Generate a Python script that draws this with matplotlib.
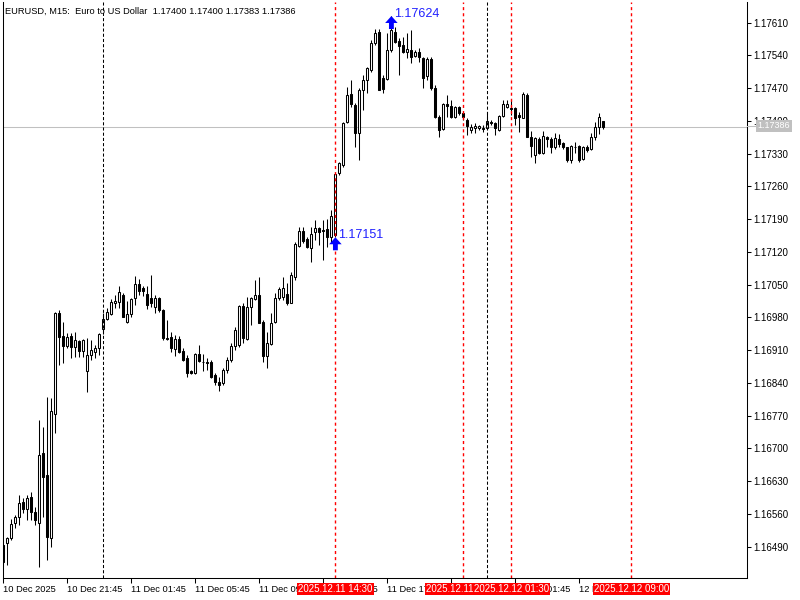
import matplotlib
matplotlib.use('Agg')
import matplotlib.pyplot as plt
import matplotlib.transforms as mtransforms
from matplotlib.lines import Line2D
import numpy as np

# ---------------- data (EURUSD M15, bars from 10 Dec 2025 17:45) ----------------
opens = [1.16493, 1.16497, 1.16508, 1.16540, 1.16553, 1.16585, 1.16570, 1.16596, 1.16564, 1.16540,
         1.16690, 1.16643, 1.16508, 1.16773, 1.16989, 1.16940, 1.16918, 1.16940, 1.16916, 1.16929,
         1.16908, 1.16865, 1.16899, 1.16906, 1.16914, 1.16955, 1.16976, 1.16987, 1.17010, 1.17013,
         1.17028, 1.16970, 1.16987, 1.17021, 1.17051, 1.17042, 1.17030, 1.17021, 1.17002, 1.17021,
         1.16995, 1.16936, 1.16938, 1.16912, 1.16933, 1.16908, 1.16893, 1.16865, 1.16861, 1.16901,
         1.16884, 1.16884, 1.16884, 1.16857, 1.16842, 1.16839, 1.16867, 1.16889, 1.16918, 1.16921,
         1.17004, 1.16933, 1.17002, 1.17019, 1.17028, 1.16970, 1.16897, 1.16923, 1.16970, 1.17021,
         1.17023, 1.17030, 1.17010, 1.17066, 1.17132, 1.17164, 1.17147, 1.17128, 1.17162, 1.17171,
         1.17166, 1.17169, 1.17151, 1.17156, 1.17288, 1.17305, 1.17397, 1.17457, 1.17434, 1.17374,
         1.17466, 1.17487, 1.17508, 1.17566, 1.17590, 1.17491, 1.17489, 1.17551, 1.17590, 1.17570,
         1.17562, 1.17547, 1.17551, 1.17538, 1.17547, 1.17534, 1.17496, 1.17532, 1.17470, 1.17408,
         1.17382, 1.17436, 1.17431, 1.17408, 1.17429, 1.17416, 1.17402, 1.17380, 1.17385, 1.17385,
         1.17385, 1.17385, 1.17397, 1.17395, 1.17380, 1.17410, 1.17429, 1.17427, 1.17427, 1.17412,
         1.17406, 1.17455, 1.17365, 1.17327, 1.17361, 1.17331, 1.17365, 1.17361, 1.17344, 1.17361,
         1.17352, 1.17344, 1.17316, 1.17344, 1.17346, 1.17318, 1.17344, 1.17340, 1.17365, 1.17387,
         1.17400]
highs = [1.16504, 1.16510, 1.16549, 1.16557, 1.16600, 1.16594, 1.16600, 1.16606, 1.16574, 1.16760,
         1.16745, 1.16809, 1.16807, 1.16991, 1.16995, 1.16970, 1.16946, 1.16946, 1.16948, 1.16931,
         1.16933, 1.16936, 1.16931, 1.16921, 1.16946, 1.16989, 1.17000, 1.17019, 1.17028, 1.17047,
         1.17032, 1.17015, 1.17021, 1.17068, 1.17062, 1.17047, 1.17047, 1.17070, 1.17028, 1.17023,
         1.16998, 1.16974, 1.16948, 1.16942, 1.16940, 1.16914, 1.16899, 1.16867, 1.16903, 1.16921,
         1.16901, 1.16893, 1.16889, 1.16861, 1.16852, 1.16871, 1.16895, 1.16925, 1.16959, 1.17006,
         1.17010, 1.17023, 1.17023, 1.17060, 1.17066, 1.16974, 1.16948, 1.16989, 1.17032, 1.17045,
         1.17066, 1.17053, 1.17077, 1.17141, 1.17173, 1.17173, 1.17151, 1.17173, 1.17188, 1.17173,
         1.17188, 1.17190, 1.17209, 1.17290, 1.17312, 1.17397, 1.17472, 1.17487, 1.17438, 1.17470,
         1.17498, 1.17515, 1.17573, 1.17596, 1.17596, 1.17498, 1.17588, 1.17624, 1.17600, 1.17577,
         1.17579, 1.17588, 1.17594, 1.17551, 1.17555, 1.17536, 1.17536, 1.17536, 1.17476, 1.17412,
         1.17438, 1.17455, 1.17444, 1.17431, 1.17431, 1.17419, 1.17406, 1.17393, 1.17395, 1.17391,
         1.17391, 1.17419, 1.17402, 1.17397, 1.17412, 1.17444, 1.17444, 1.17444, 1.17429, 1.17419,
         1.17461, 1.17459, 1.17378, 1.17365, 1.17365, 1.17378, 1.17367, 1.17365, 1.17374, 1.17372,
         1.17355, 1.17344, 1.17348, 1.17355, 1.17348, 1.17346, 1.17348, 1.17374, 1.17397, 1.17417,
         1.17400]
lows = [1.16448, 1.16450, 1.16504, 1.16530, 1.16536, 1.16562, 1.16547, 1.16547, 1.16536, 1.16446,
        1.16553, 1.16461, 1.16489, 1.16733, 1.16878, 1.16882, 1.16914, 1.16893, 1.16895, 1.16895,
        1.16895, 1.16820, 1.16889, 1.16893, 1.16899, 1.16944, 1.16974, 1.16985, 1.17000, 1.17000,
        1.16980, 1.16968, 1.16980, 1.17006, 1.17028, 1.17025, 1.16998, 1.17002, 1.16989, 1.16991,
        1.16931, 1.16931, 1.16906, 1.16897, 1.16904, 1.16886, 1.16852, 1.16859, 1.16859, 1.16884,
        1.16865, 1.16867, 1.16850, 1.16835, 1.16822, 1.16835, 1.16861, 1.16884, 1.16910, 1.16916,
        1.16925, 1.16931, 1.16963, 1.17017, 1.16968, 1.16884, 1.16871, 1.16921, 1.16968, 1.17017,
        1.17017, 1.17006, 1.17010, 1.17060, 1.17130, 1.17139, 1.17128, 1.17098, 1.17145, 1.17134,
        1.17102, 1.17130, 1.17139, 1.17151, 1.17284, 1.17301, 1.17395, 1.17429, 1.17344, 1.17316,
        1.17423, 1.17459, 1.17504, 1.17562, 1.17466, 1.17459, 1.17487, 1.17547, 1.17566, 1.17498,
        1.17545, 1.17534, 1.17523, 1.17536, 1.17525, 1.17470, 1.17487, 1.17466, 1.17406, 1.17365,
        1.17380, 1.17408, 1.17406, 1.17406, 1.17412, 1.17402, 1.17370, 1.17374, 1.17374, 1.17380,
        1.17376, 1.17382, 1.17391, 1.17370, 1.17378, 1.17408, 1.17427, 1.17412, 1.17391, 1.17376,
        1.17406, 1.17365, 1.17322, 1.17310, 1.17329, 1.17329, 1.17344, 1.17331, 1.17340, 1.17344,
        1.17340, 1.17312, 1.17310, 1.17331, 1.17312, 1.17316, 1.17333, 1.17337, 1.17359, 1.17372,
        1.17383]
closes = [1.16457, 1.16508, 1.16538, 1.16553, 1.16583, 1.16570, 1.16594, 1.16564, 1.16547, 1.16686,
          1.16639, 1.16510, 1.16780, 1.16989, 1.16938, 1.16918, 1.16938, 1.16916, 1.16931, 1.16908,
          1.16931, 1.16899, 1.16910, 1.16914, 1.16944, 1.16976, 1.16991, 1.17013, 1.17015, 1.17034,
          1.16980, 1.16987, 1.17019, 1.17051, 1.17036, 1.17036, 1.17006, 1.17010, 1.17021, 1.16995,
          1.16936, 1.16933, 1.16914, 1.16933, 1.16906, 1.16889, 1.16861, 1.16861, 1.16901, 1.16886,
          1.16885, 1.16882, 1.16852, 1.16842, 1.16835, 1.16867, 1.16889, 1.16918, 1.16953, 1.17004,
          1.16936, 1.17002, 1.17021, 1.17028, 1.16968, 1.16897, 1.16925, 1.16968, 1.17021, 1.17040,
          1.17042, 1.17010, 1.17070, 1.17136, 1.17164, 1.17143, 1.17130, 1.17158, 1.17171, 1.17162,
          1.17164, 1.17151, 1.17196, 1.17286, 1.17310, 1.17395, 1.17455, 1.17436, 1.17374, 1.17466,
          1.17487, 1.17513, 1.17566, 1.17588, 1.17466, 1.17468, 1.17551, 1.17594, 1.17568, 1.17560,
          1.17547, 1.17553, 1.17536, 1.17547, 1.17536, 1.17491, 1.17532, 1.17470, 1.17408, 1.17380,
          1.17436, 1.17431, 1.17408, 1.17429, 1.17416, 1.17408, 1.17389, 1.17387, 1.17389, 1.17389,
          1.17382, 1.17399, 1.17395, 1.17385, 1.17410, 1.17436, 1.17436, 1.17425, 1.17406, 1.17408,
          1.17457, 1.17365, 1.17346, 1.17363, 1.17331, 1.17367, 1.17361, 1.17344, 1.17363, 1.17350,
          1.17344, 1.17316, 1.17346, 1.17343, 1.17316, 1.17344, 1.17337, 1.17365, 1.17387, 1.17408,
          1.17386]

xtick_pos = [0, 16, 32, 48, 64, 80, 96, 112, 128, 144]
xtick_labels = ["10 Dec 2025", "10 Dec 21:45", "11 Dec 01:45", "11 Dec 05:45", "11 Dec 09:45",
                "11 Dec 13:45", "11 Dec 17:45", "11 Dec 21:45", "12 Dec 01:45", "12 Dec 05:45"]
price_ticks = [1.17610, 1.17540, 1.17470, 1.17400, 1.17330, 1.17260, 1.17190, 1.17120, 1.17050,
               1.16980, 1.16910, 1.16840, 1.16770, 1.16700, 1.16630, 1.16560, 1.16490]
day_sep_bars = [25, 121]
event_bars = [83, 115, 127, 157]
event_labels = ["2025.12.11 14:30", "2025.12.11 22:30", "2025.12.12 01:30", "2025.12.12 09:00"]
arrow_bars = [83, 97]
arrow_prices = [1.17151, 1.17624]
bid_price = 1.17386
title = "EURUSD, M15:  Euro to US Dollar  1.17400 1.17400 1.17383 1.17386"

# ---------------- figure ----------------
plt.rcParams['font.family'] = ['Liberation Sans', 'DejaVu Sans']
fig = plt.figure(figsize=(8, 6), dpi=100)
fig.patch.set_facecolor('white')
ax = fig.add_axes([3 / 800, 22 / 600, 744 / 800, 576 / 600])
ax.set_facecolor('white')
ax.set_xlim(-0.1, 185.9)
ax.set_ylim(1.164227, 1.17654)

x = np.arange(len(opens))
o = np.array(opens)
c = np.array(closes)
up = c >= o

ax.axhline(bid_price, color='#c0c0c0', lw=0.75, zorder=1)
ax.vlines(x, lows, highs, color='black', lw=0.75, zorder=2)
ax.bar(x, np.abs(c - o), bottom=np.minimum(o, c), width=0.5,
       color=np.where(up, 'white', 'black'), edgecolor='black', linewidth=0.75, zorder=3)

for b in day_sep_bars:
    ax.axvline(b, color='black', lw=0.75, ls=(0, (3, 2)), zorder=4)

trans = mtransforms.blended_transform_factory(ax.transData, ax.transAxes)
for b in event_bars:
    ax.vlines([b], 0, 1, transform=trans, colors=['#ff0000'], linewidths=1.0,
              linestyles=[(0, (2.2, 2.2))], zorder=4)
for b, lab in zip(event_bars, event_labels):
    ax.text(b, -0.0195, lab, transform=trans, ha='center', va='center', fontsize=7,
            color='white', clip_on=False, zorder=6,
            bbox=dict(boxstyle='square,pad=0.12', fc='#ff0000', ec='none'))

for b, p in zip(arrow_bars, arrow_prices):
    ax.annotate('', xy=(b, p), xytext=(0, -13), textcoords='offset pixels',
                arrowprops=dict(arrowstyle='simple,head_length=0.5,head_width=0.9,tail_width=0.35',
                                fc='#0000ff', ec='#0000ff', lw=0, shrinkA=0, shrinkB=0,
                                mutation_scale=10), zorder=6)
    ax.annotate(f"{p:.5f}", xy=(b, p), xytext=(3, 2), textcoords='offset pixels',
                ha='left', va='center', fontsize=9, color='#2020ff', zorder=6)

# axes styling
for s in ['left', 'bottom', 'right']:
    ax.spines[s].set_linewidth(0.75)
    ax.spines[s].set_color('black')
ax.spines['top'].set_visible(False)

ax.yaxis.tick_right()
ax.set_yticks(price_ticks)
ax.set_yticklabels([f"{p:.5f}" for p in price_ticks])
ax.tick_params(axis='y', direction='out', length=3, width=0.75, pad=1.5, labelsize=7)
ax.set_xticks(xtick_pos)
ax.set_xticklabels(xtick_labels, ha='left')
ax.tick_params(axis='x', direction='out', length=3.5, width=0.75, pad=1.5, labelsize=6.7)

# bid label at right
fig.add_artist(Line2D([747 / 800, 759 / 800], [1 - 126 / 600, 1 - 126 / 600],
                      color='#c0c0c0', lw=0.75, transform=fig.transFigure))
fig.text(774 / 800, 1 - 126 / 600, f"{bid_price:.5f}", ha='center', va='center', fontsize=6.5,
         color='white', bbox=dict(boxstyle='square,pad=0.15', fc='#c0c0c0', ec='none'))

fig.text(5 / 800, 1 - 11 / 600, title, ha='left', va='center', fontsize=6.7, color='black')

fig.savefig('out.png', dpi=100, facecolor='white')
